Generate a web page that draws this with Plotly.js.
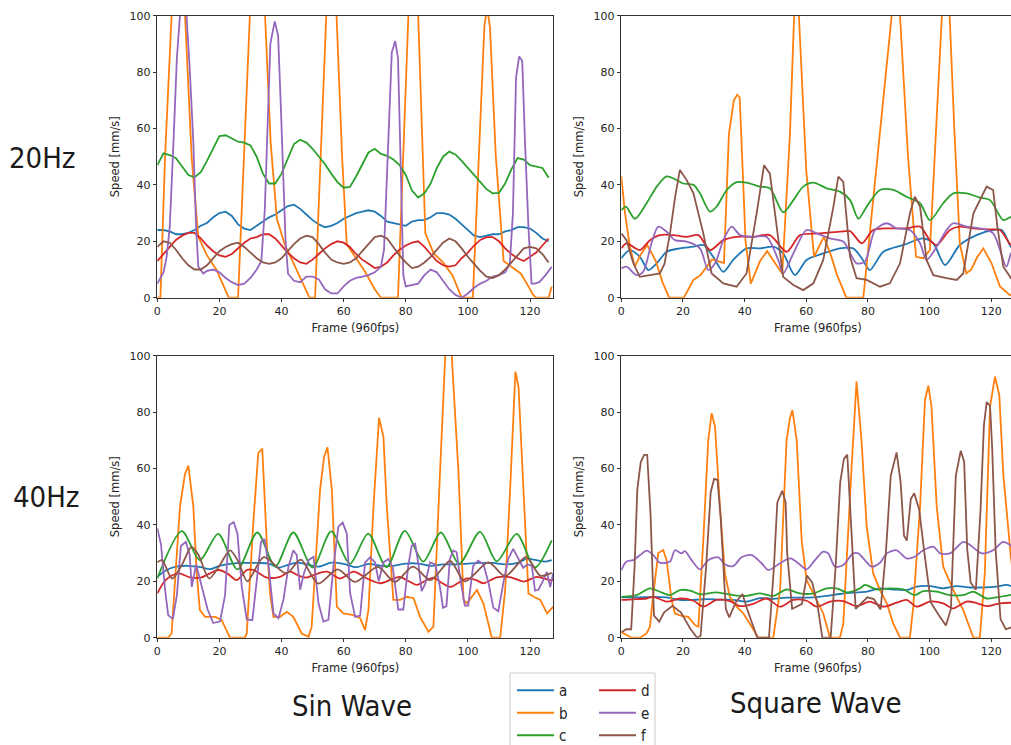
<!DOCTYPE html>
<html><head><meta charset="utf-8">
<script src="https://cdn.plot.ly/plotly-3.0.1.min.js"></script>
<style>html,body{margin:0;padding:0;overflow:hidden;background:#fff;}#chart{width:1016px;height:745px;}</style>
</head><body><div id="chart"></div>
<script>
// ---------- DATA ----------
const seriesNames = ['a','b','c','d','e','f'];
const xTicks = [0,20,40,60,80,100,120];
const yTicks = [0,20,40,60,80,100];
const rowLabels = ['20Hz','40Hz'];
const colLabels = ['Sin Wave','Square Wave'];
const xTitle = 'Frame (960fps)';
const yTitle = 'Speed [mm/s]';

const frames2 = [0,2,4,6,8,10,12,14,16,18,20,22,24,26,28,30,32,34,36,38,40,42,44,46,48,50,52,54,56,58,60,62,64,66,68,70,72,74,76,78,80,82,84,86,88,90,92,94,96,98,100,102,104,106,108,110,112,114,116,118,120,122,124,126];

// Sin wave 20Hz
const s20_a_y = [24,24,23.5,22.5,22.5,23,24,25.5,26.5,28.5,30,30.5,29,26,24.5,24,25.5,27,28.5,29.5,31,32.5,33,31.5,29.5,27.5,26,25,25.5,26.5,28,29,30,30.5,31,30.5,29,27,26.5,26,25.5,27,27.5,27.5,28.5,30,30,29.5,28,26,24,22,21.5,22,22.5,22.5,23.5,24,25,25,24.5,23,21,20];
const s20_c_y = [47,51.2,50.6,49.5,46.5,43.5,42.7,44.5,48.5,53,57.3,57.6,56.3,55.3,55,54,50,44,40.5,40.5,44,49.5,54.5,56,55,52.8,50,47.3,44,41,39,39.3,43,47,51.5,52.8,51,50.3,49,47,43.5,38,35.5,37,40.5,46,50,51.8,50.8,48.5,46,43.5,41.1,38.5,37,37.2,40.5,45.5,49.5,49,47,46.5,46,42.5];
const s20_d_y = [13,15.5,18,20.5,22,23,23,21,18.5,16.5,15,14.5,15.5,17.5,19.5,21,21.5,22.5,22.5,21,18.5,16,14,12.5,12,13.5,15.5,17.5,19,20,19.5,18,15.5,13.5,12,10.5,11,12.5,15,17,18.5,19.5,20,18,15.5,13,11.5,11,11.5,14,16,18.5,20.5,21.5,21.5,20,17.5,15.5,14,13,14.5,16,18.5,21];
const s20_f_y = [18,20,19.5,17,14,11.5,10,10,11.5,14,16.5,18,19,19.5,18,16,14,12.5,12,12.5,14,16.5,19,21,22,21.5,19,16,13.5,12.5,12,12.5,14,16.5,19,21.5,22,21,18,15,12.5,10.5,11,12.5,14.5,17,19.5,21,20,17.5,14.5,12,9.5,7.5,7,8,10,12.5,15,17.5,18,17.5,15.5,12.5];
const s20_b_x = [0,1,2.5,4.6,6.6,8.9,11.1,13.2,16,19,21,23,26,28,29.8,32.2,34.7,36.5,38.5,41,44,47,49,50.8,52.5,54.4,56.1,57.8,59.5,61,64,67,70,72,77.5,79.2,80.8,82.5,84,86.3,89,92,95,98,101.6,103.5,105.3,106.2,107.1,109,111.5,114,117,119,121,122,126,127];
const s20_b_y = [0,0,50,100,155,100,49,21.6,15,10,5,0,0,55,100,150,100,55,28,19,12,5,0,0,50,100,145,100,50,19,14,9,3,0,0,50,100,150,100,22.8,15.7,12.5,8,0,0,50,96,103,96,50,13,11,8.6,5,1,0,0,4];
const s20_e_x = [0,2,3,4,5.2,6.3,7.3,8.3,9.4,10.5,11.6,12.5,13.2,14.8,16,18,20,22,24,26,28,30,32,33.5,34.6,35.5,36.4,37.8,38.9,39.7,40.5,41.3,42.1,44,46,48,50,52,54,56,58,60,62,64,66,68,70,72,73,74.4,75.5,76.6,77.5,78.3,79.2,80,82,84,86,88,90,92,94,96,98,100,102,104,106,108,110,112,113.5,114.5,115.5,116.5,117.5,118.4,119.5,120.5,121.5,123,125,127];
const s20_e_y = [5,9,14.5,25,55,85,100,104,100,80,55,25,11,8.6,9.5,10,9,7,5.5,4.5,5,7,10,13,31,65,90,98,93,70,43,20,8.5,6,5.5,7.5,7.5,6.5,3,1.5,1.5,4,6,7,7.5,8,9,11,17,60,87,91,85,50,8,4,4.5,5,8,10,9,6,3,1,0,1.5,3.5,5,6,7.5,8,9,12,30,78,85.5,84,55,25,5,5,5.5,8,11];

// Square wave 20Hz
const q20_a_x = [0,2.8,6,8.8,11.5,14.7,19,23.4,26.6,29.8,33.1,36.3,40.6,45,49.3,52.5,56.3,60.1,65.5,70.9,75.2,78,80.6,85,91.5,98,101.2,105,109.8,115.2,120.6,123.4,126.4,127.5];
const q20_a_y = [14,16.9,14.5,9.8,12.2,16.3,17.5,18.1,18.7,14.5,9.2,13.4,17.5,17.5,18.1,15.7,8,13.4,15.7,17.5,17.5,14,9.8,16.3,18.7,21,19.3,11.6,18.7,22.2,24,24,18,17];
const q20_b_x = [0,1.2,2.8,4.4,6.3,8.4,11.2,13.3,15.5,20.3,23.4,25.7,29.5,32.2,33.3,34.9,36.5,37.6,38.4,39.3,40.3,42,45,47.3,50,52.2,54.7,56,56.6,57.6,60,62.5,65.7,68,70,73,78.5,87.7,89.3,90.4,93,95.6,98,100.1,104,105.3,106.5,108,109.8,111.9,113.5,115.5,117.4,120.1,122.8,126,127.5];
const q20_b_y = [43,30,18,11,15.3,18.7,13,5.7,0,0,6.3,8,13.6,12.8,12.3,58,70,72,71,47,20,5,13,16.5,12,8.5,58,100,117,100,45,14.5,21.6,15,8,0,0,100,117,100,50,14.5,14,16.9,100,128,100,60,19.3,8.6,10,14.5,17.5,12.2,4,1,0.5];
const q20_c_x = [0,1.5,4.4,8.2,11.5,14.7,18,20,23.4,25.5,28.8,30.9,34.2,37.4,40.6,45,48.2,52.5,55.8,59,62.3,66.6,70.9,74.2,76.9,79.6,83.9,88.2,92.5,96.9,100.1,104.4,107.7,112,116.3,119.6,123.9,126.4,127.5];
const q20_c_y = [31,32.3,28,33.5,39.4,43,41.7,40.5,40,37,30.5,32.3,38.2,41,40.8,39.4,38.8,30.3,34.6,39.4,40.8,38.8,37.6,34.6,28,32.3,38.2,38.2,35.8,33.5,27.5,33.5,37,37,35.5,34.6,27.5,28.7,29];
const q20_d_x = [0,1.7,6,9.3,12.5,16.9,21.2,25,28.8,33.1,37.4,42.8,48.2,53.6,58,64.4,70.9,74.2,78,81.7,87.1,92.5,96.9,100.1,102.3,106.6,109.8,114.2,119.6,122.8,126.4,127.5];
const q20_d_y = [17.5,19.3,16.9,20.4,22.2,22.2,21.6,22.2,16.9,20.4,21.6,21.6,22.2,16.3,22.2,22.8,23.4,23.6,19.3,24,24.6,24.6,25.2,20.4,18.7,24,25.2,24.6,24.2,24,18.7,18.5];
const q20_e_x = [0,1.7,5,7.1,9.8,12,14.7,17.4,21.2,25.5,28.2,30.4,33.1,35.8,38.5,42.8,47.1,50.9,52.5,55.8,60.1,63.4,67.7,72,76.3,79,82.3,86.1,89.3,93.6,96.9,99,102.3,105.5,107.7,112,116.3,120.6,124.9,126.4,127.5];
const q20_e_y = [10.4,11,8,9.2,19.3,25.2,23.4,20.4,19.9,17.5,9.8,12.2,20.4,25.2,22.2,21.6,21.6,13.4,8.6,15.7,24,22.8,21,19.9,12.2,12.8,24,26.4,24.6,24,19.3,13.4,18.1,24,26.4,25.2,24.6,22.8,11,15.7,17];
const q20_f_x = [0,1.7,3.9,6,9.3,12.5,14,15.8,17.5,19,21.2,23.4,26.6,29.3,33.1,37.4,40.6,43.9,46.3,48.2,50.4,52.5,55.8,59,62.3,65.5,68.8,70.4,72,74.2,76.3,79.6,83.9,87.1,90.4,93.6,95.2,96.9,99,101.2,105.5,108.8,110.9,114.2,118.5,120.6,122,123.9,126.4,127.5];
const q20_f_y = [22.8,20.4,12.2,7.4,8,8.6,12,22.8,36,45.3,41.7,37,22.8,8.6,5.1,3.9,8.6,29.9,47,44,25.2,7.4,4.5,2.7,5.1,13.4,32.3,42.9,41.1,14.5,6.9,6.3,3.9,5.1,12.2,29.9,35.8,32.3,13.4,8,6.9,6.3,8.6,29.9,39.4,38.2,25,11,6.9,6.5];

// Sin wave 40Hz
const s40_a_x = [0,3,6,10,14,17,20,24,28,32,36,39,42,45,48,52,56,60,64,68,72,76,80,84,88,92,96,100,104,108,112,116,119,122,125,127];
const s40_a_y = [21.6,24,25.2,25.5,25,24.3,25.5,26.3,26.5,26.5,26.3,24.8,25.8,26.6,26,25.2,26.6,26.2,25,26.2,25.5,25.5,26.3,26.3,25.5,26,26,26.3,26.5,26.5,26,26.5,28,27.5,27,27.5];
const s40_b_x = [0,3.5,4.6,6,7.3,8.9,10,11.6,12.7,13.7,15.4,18.6,20.7,23.4,28.2,28.8,30.9,32.5,33.8,35.2,36.3,37.4,39.5,41.7,43.8,46.5,48.7,49.7,52.4,53.7,54.8,56.2,57.8,59.9,63.2,65.3,66.9,68,69.6,71.4,72.8,73.9,76,78.2,80.3,82.5,84.6,87.3,88.9,91,92.7,93.8,94.8,97,98.6,99.7,102.9,105,107.7,110.4,112,113.7,115.3,116.3,118,119.5,121.2,123.3,125.5,127.5];
const s40_b_y = [0,0,1.5,25,46.5,58,61,46.5,22.8,9.8,7.4,7.4,6.3,0,0,1.5,40.5,65.4,67.1,34.6,15.7,7.4,7.4,9.2,7.4,1.5,0.3,3.9,52.4,64.2,67.5,52.4,11,8.6,8,6.9,2.7,10,46.5,78,71.3,46.5,13.4,13.4,14.5,14,7.4,2.1,3.9,58,100,108,100,58,13.4,12.2,16.9,12.2,0,0,16.9,55,94.3,89,52.4,15.7,14.5,13.4,8.6,11];
const s40_c_x = [0,7.9,13.7,19.6,25.8,32.2,38,43.8,50,56,62,67.9,73.8,79.7,85.6,91.3,97.2,103.9,109.3,115.7,121.6,127];
const s40_c_y = [21,37.8,27.5,36.8,24.2,37.3,25.3,37.3,24.9,37.7,26.2,36.9,25,37.9,27,37.3,26.2,37.5,27.1,36.8,24.9,34.5];
const s40_d_x = [0,2,4,7,10.5,14,17,19.7,22.5,25.6,28.8,31,35,39.5,42.7,45.5,48,51,54.6,58.9,63.2,67.5,71.7,75,78,81,83.6,86,88.9,91.5,94.3,97,99.7,102.5,105,109.3,113.6,118,122.2,126.5,127.5];
const s40_d_y = [15.7,19.5,21.6,22.8,21.4,21.3,22.8,24,22.8,20.4,24,24,21.4,21.6,23.4,22,21.3,22.5,23.4,21,23.4,21,19.3,20.5,21.6,20,18.7,20,21.3,19.5,18,19.5,21,20.5,19.3,21.4,21.5,19.9,21.6,20.4,20.5];
const s40_e_x = [0,1.2,2.5,3.5,5,6.3,7.6,9.2,10.4,11.1,12.5,14,16.2,18,20.2,21.8,23.2,24.6,25.8,27.2,28.8,30.6,32.2,33.4,34.5,35.8,37.4,39,40.6,42.2,43.8,44.9,46,47.2,48.7,50.3,51.9,53.5,55.1,56.7,58.3,59.7,61,62.1,63.7,65.3,66.9,68.5,70.1,71.3,72.8,74.4,75.8,77.6,79.2,80.8,81.9,83,84.1,85.1,86.2,87.8,89.5,91,92,93.1,94.2,95.3,96.4,97.4,99,100.1,101.7,103.3,105,106.6,108.2,109.8,111.5,113,114.6,116.3,117.8,119.2,120.6,121.6,122.7,124.1,125.4,126.5,127.5];
const s40_e_y = [38.8,33,17,8,6.6,15,32.5,34,29.5,18,26,19.5,10,5.2,5.8,15,40,41,37,18,6.5,6.2,22,34,35,26,8.6,6.9,13.4,25,31,29.3,17,22.8,27.5,28.7,12.2,5.7,6.3,25.2,39.4,40.8,37,15.7,7.4,7.8,26.7,28.5,26.7,20,26.7,27.9,25,10,10,25.5,32.6,33.3,26,16.5,19,26.7,26,18,10.6,11.2,27.9,30.9,30.3,22,11.4,11.4,25.5,27.3,26,19.6,10.6,9.4,20,28,31.5,28,24.8,26,25.5,16.7,17,20,23.3,18,23];
const s40_f_x = [0,1.5,4.8,8,11,13.2,16.7,20,23.4,26.1,29,34.3,41.5,46.2,51.8,58,63.7,71,76.5,82.3,88,94.3,99,106.6,112,118.7,123.3,127];
const s40_f_y = [26.7,27.5,21,26,32.2,29.5,21,25.5,31,27,20,28.6,22.8,27.7,19.2,24.2,19.8,25.1,19.8,25.2,20.4,27.2,20,26.7,21.8,28.6,22,23];

// Square wave 40Hz
const q40_a_x = [0,5,10.4,14.7,19,23.4,27.7,32,36.3,40.6,45,49.3,53.6,57.9,62.3,66.6,70.9,75.2,79.6,83.9,88.2,92.5,95.8,100.1,104.4,108.8,113.1,117.4,121.7,125,127.5];
const q40_a_y = [14.3,14.3,14.5,14.3,13.4,13.4,13.7,13.5,13.4,12.8,14,13.8,14.2,14.2,14.3,14.8,15.5,16,16.3,17.5,17.1,16.9,18.1,18.3,17.5,18.3,17.8,17.8,18.1,18.7,17.8];
const q40_b_x = [0,1.7,3.4,6.1,8.2,9.3,10.4,12,13.6,14.7,16.3,17.4,19.6,21.7,23.9,25,26.6,28.2,29.3,30.4,32,33.6,35.2,37.4,39.6,42.3,44.4,49.3,51.5,53.6,54.7,55.5,56.9,58.5,60.1,62.3,65.5,67.7,70.9,72,73.1,74.7,76.3,77.9,79.6,81.7,83.9,86.1,88.2,90.4,93.6,94.7,96.9,98.5,99.6,100.6,102.3,104.4,107.7,110.9,114.2,116.3,117.9,119.6,121.2,122.6,123.9,126.4,127.5];
const q40_b_y = [2,1,0,0,1.5,3.9,15.7,30,31.1,27.5,13.4,8.6,7.7,7.4,4.5,3.9,34.6,70,79.6,74.8,46.5,22.8,14.5,11,8.6,3.9,0,0,16.9,70,77.8,80.7,70,34.6,20.4,15.7,8.6,0,0,5,28.7,60.6,90.8,70,39.4,22.8,16.9,12.2,5.1,0,0,11,46.5,84.3,89.4,82,46.5,25.2,16.9,9.8,0,0,22.8,81.9,92.6,86,58,28,20];
const q40_c_x = [0,5,9.3,12.5,15.8,19,22.3,25.5,30.9,36.3,40.6,45,49.3,53.6,57.9,62.3,66.6,69.8,73.1,77.4,79,82.8,87.1,91.5,95.2,97.9,102.3,106.6,110.9,114.2,118.5,122.8,127.5];
const q40_c_y = [14.5,15.1,17.5,16.3,15.1,16.9,16.7,15.4,16.1,15.1,14.8,15.7,14.8,17.1,15.7,15.7,17.5,17.5,16.1,17.5,18.7,17.1,17.5,17.1,15.1,16.5,16.3,15.1,15.1,16.3,13.9,14.5,15.4];
const q40_d_x = [0,3.9,8.2,10.4,14.7,19,23.4,26.6,30.9,35.2,38.5,42.8,47.1,51.5,55.8,60.1,63.4,67.7,72,76.3,80.6,85,89.3,92.5,95.8,100.1,104.4,107.7,112,115.2,118.5,122.8,127.5];
const q40_d_y = [13.4,13.6,13.9,14.5,12.8,13.9,13.1,11,13.4,13,11.2,12,13.9,11,13.4,13.1,11,12.8,13,11.2,12.8,11,12.4,13.4,11,12.8,12.2,10.4,12.8,12.3,11.2,12.2,12.4];
const q40_e_x = [0,1.7,3.9,6.1,8.2,10.4,12.5,15.8,17.4,19.6,20.6,22.8,25.5,28.2,31.5,33.6,36.3,39,42.3,45.5,47.7,51.5,54.8,58.1,60.1,62.8,65.5,67.1,69.3,72,75.2,76.9,81.2,83.9,86.1,89.3,92.5,95.2,97.9,101.2,103.4,106.6,110.9,113.1,116.9,120.6,123.9,127.5];
const q40_e_y = [24,27,27.5,29.3,30.9,29.3,26.6,27,31,29.9,30.7,27.5,24.2,27.5,28.5,26,25.4,28.5,29.3,26.4,24,26.4,28.1,25.8,24.2,27.5,30.5,29.9,25.2,25.8,29.9,29.9,25.2,26.6,29.9,31,28.1,28.7,31,32.3,29.9,29.9,34,32.9,29.9,31,34,31.7];
const q40_f_x = [0,1.6,3.2,4.3,5.2,6.3,7.4,8.4,9.5,10.6,12.3,13.9,16.6,19.3,22.5,24.6,25.7,27.5,29,30.1,31.2,32.2,33.9,35,37.1,39.3,40.8,44.1,47.9,49.5,50.6,52.2,53.3,53.8,55.4,58.6,60.2,61.9,63.5,65.2,67.9,69.5,71,72.2,73.3,74.4,76,79.8,81.9,84.1,85.8,87.4,89.3,90.6,91.7,92.6,93.9,95,96.6,98.2,100.4,103,105.3,106.9,108.5,110.1,111.2,112.2,113.3,115,116.5,117.6,118.5,119.6,120.3,121.4,123,124.7,126.3,127.5];
const q40_f_y = [1.9,3,3,25,52.7,62.2,64.8,64.8,43.3,7.8,5.7,9,11.3,9,3,0,0.6,25,51.6,56.3,56,43,10.2,7.2,12.5,15.5,10.2,0,0,25,48,52.1,48,30,10.2,12,22,19.6,12.5,0,0,25,55.1,63.4,64.9,43.3,10.2,14.3,13.7,10,30,57.5,65.7,55.1,36.2,34.4,49.2,51.2,45.6,31,12.5,8,4.3,10.2,57.5,66.3,62.4,31.4,19.6,17,45,75.2,83.5,82.3,67,31.4,6.6,3,3.6,4];

// ---------- LAYOUT / DRAWING ----------
const W = 1016, H = 745;
const colors = {a:'#1f77b4', b:'#ff7f0e', c:'#2ca02c', d:'#d62728', e:'#9467bd', f:'#8c564b'};
const fx = p => p / W, fy = p => 1 - p / H;
const colDom = [[fx(157.3), fx(553.3)], [fx(621.3), fx(1014.4)]];
const rowDom = [[fy(297.7), fy(15.7)], [fy(637.7), fy(355.7)]];

const panels = [
  {r:0, c:0, s:{a:[frames2,s20_a_y,0], b:[s20_b_x,s20_b_y,0], c:[frames2,s20_c_y,0], d:[frames2,s20_d_y,0], e:[s20_e_x,s20_e_y,0], f:[frames2,s20_f_y,0]}},
  {r:0, c:1, s:{a:[q20_a_x,q20_a_y,1], b:[q20_b_x,q20_b_y,0], c:[q20_c_x,q20_c_y,1], d:[q20_d_x,q20_d_y,1], e:[q20_e_x,q20_e_y,1], f:[q20_f_x,q20_f_y,0]}},
  {r:1, c:0, s:{a:[s40_a_x,s40_a_y,1], b:[s40_b_x,s40_b_y,0], c:[s40_c_x,s40_c_y,1], d:[s40_d_x,s40_d_y,1], e:[s40_e_x,s40_e_y,0], f:[s40_f_x,s40_f_y,1]}},
  {r:1, c:1, s:{a:[q40_a_x,q40_a_y,1], b:[q40_b_x,q40_b_y,0], c:[q40_c_x,q40_c_y,1], d:[q40_d_x,q40_d_y,1], e:[q40_e_x,q40_e_y,1], f:[q40_f_x,q40_f_y,0]}}
];

const tickFont = {family:'DejaVu Sans, sans-serif', size:11, color:'#262626'};
const titleFont = {family:'DejaVu Sans, sans-serif', size:11.5, color:'#262626'};
const narrow = 'Liberation Sans Narrow, DejaVu Sans Condensed, sans-serif';
const traces = [];
const legendCommon = {xanchor:'left', yanchor:'top', bgcolor:'rgba(0,0,0,0)', borderwidth:0, itemwidth:37,
  font:{family:narrow, size:15, color:'#262626'}, tracegroupgap:0};
const layout = {
  width: W, height: H, margin:{l:0,r:0,t:0,b:0,autoexpand:false},
  paper_bgcolor:'#ffffff', plot_bgcolor:'#ffffff',
  showlegend: true,
  legend: Object.assign({x: fx(512), y: fy(674)}, legendCommon),
  legend2: Object.assign({x: fx(594), y: fy(674)}, legendCommon),
  annotations: [], shapes: []
};

panels.forEach((p, i) => {
  const n = i === 0 ? '' : String(i + 1);
  const xa = 'x' + n, ya = 'y' + n;
  layout['xaxis' + n] = {
    domain: colDom[p.c], anchor: ya, range:[0,127.5], tickvals: xTicks, ticks:'outside', ticklen:3.5, tickwidth:1,
    tickcolor:'#333', showline:true, linecolor:'#333', linewidth:1, mirror:true, showgrid:false, zeroline:false,
    tickfont: tickFont, title:{text:xTitle, font:titleFont, standoff:6}, fixedrange:true
  };
  layout['yaxis' + n] = {
    domain: rowDom[p.r], anchor: xa, range:[0,100], tickvals: yTicks, ticks:'outside', ticklen:3.5, tickwidth:1,
    tickcolor:'#333', showline:true, linecolor:'#333', linewidth:1, mirror:true, showgrid:false, zeroline:false,
    tickfont: tickFont, title:{text:yTitle, font:titleFont, standoff:7}, fixedrange:true
  };
  seriesNames.forEach(k => {
    const [xs, ys, smooth] = p.s[k];
    traces.push({
      type:'scatter', mode:'lines', x: xs, y: ys, xaxis: xa, yaxis: ya, name: k,
      line:{color: colors[k], width:1.8, shape: smooth ? 'spline' : 'linear', smoothing: 0.8},
      showlegend: i === 0, legend: (k === 'a' || k === 'b' || k === 'c') ? 'legend' : 'legend2',
      hoverinfo:'skip'
    });
  });
});

const bigFont = {family:narrow, size:29, color:'#1a1a1a'};
const lab = (text, px, py) => ({text, x: fx(px), y: fy(py), xref:'paper', yref:'paper', xanchor:'center', yanchor:'middle', showarrow:false, font: bigFont});
layout.annotations.push(
  lab(rowLabels[0], 42, 158),
  lab(rowLabels[1], 46, 497),
  lab(colLabels[0], 352, 706),
  lab(colLabels[1], 816, 703)
);
// legend frame
layout.shapes.push({type:'rect', xref:'paper', yref:'paper', x0: fx(510), x1: fx(655), y0: fy(760), y1: fy(673),
  line:{color:'#cccccc', width:1}, fillcolor:'rgba(255,255,255,0.8)', layer:'below'});

Plotly.newPlot('chart', traces, layout, {displayModeBar:false, staticPlot:true});
</script></body></html>
